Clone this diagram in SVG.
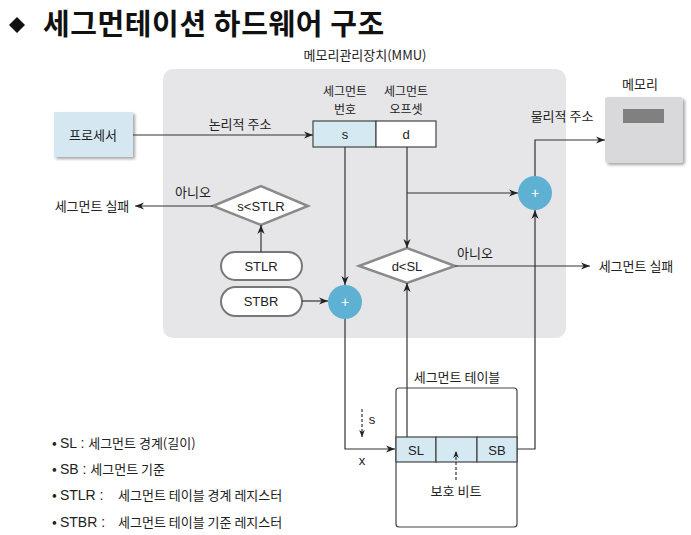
<svg xmlns="http://www.w3.org/2000/svg" width="691" height="535" viewBox="0 0 691 535">
<defs>
<marker id="ah" viewBox="0 0 10 10" refX="10" refY="5" markerWidth="9" markerHeight="9" orient="auto" markerUnits="userSpaceOnUse"><path d="M0,1 L10,5 L0,9 L3,5 Z" fill="#222"/></marker>
<marker id="ahs" viewBox="0 0 10 10" refX="10" refY="5" markerWidth="7" markerHeight="7" orient="auto" markerUnits="userSpaceOnUse"><path d="M0,1 L10,5 L0,9 L3,5 Z" fill="#222"/></marker>
<filter id="sh" x="-20%" y="-20%" width="140%" height="140%"><feDropShadow dx="2" dy="2" stdDeviation="1.5" flood-color="#000" flood-opacity="0.35"/></filter>
</defs>
<style>
text{font-family:"Noto Sans CJK KR","Liberation Sans",sans-serif;fill:#222}
.t{font-size:13px}
.c{text-anchor:middle}
.ln{fill:none;stroke:#333;stroke-width:1.2}
.da{fill:none;stroke:#333;stroke-width:1.2;stroke-dasharray:3,2}
.dia{fill:#fff;stroke:#8a8a8a;stroke-width:2.5}
.pill{fill:#fff;stroke:#777;stroke-width:2}
.cell{fill:#d5e9f2;stroke:#444;stroke-width:1.2}
.plus{fill:#5eb1d2}
.pt{fill:#fff;font-size:14px;font-family:"Liberation Sans",sans-serif}
.lat{font-family:"Liberation Sans","Noto Sans CJK KR",sans-serif}
</style>
<rect width="691" height="535" fill="#fff"/>
<g id="title">
<path d="M17,17 L25,25 L17,33 L9,25 Z" fill="#111"/>
<text x="43" y="35" font-size="29" font-weight="bold" letter-spacing="0.6" style="fill:#111">세그먼테이션 하드웨어 구조</text>
</g>
<g id="mmu">
<rect x="163" y="69" width="403" height="269" rx="10" fill="#e6e6e8"/>
<text x="365" y="60" class="t c" font-size="12">메모리관리장치(MMU)</text>
</g>
<g id="processor">
<rect x="54" y="112" width="79" height="45" fill="#d5e8f1" filter="url(#sh)"/>
<text x="93" y="140" class="t c">프로세서</text>
</g>
<g id="memory">
<text x="640" y="89" class="t c">메모리</text>
<rect x="605" y="97" width="78" height="66" rx="3" fill="#d9d9db" filter="url(#sh)"/>
<rect x="623" y="109" width="41" height="14" fill="#808080"/>
</g>
<g id="address">
<text x="345" y="96" class="c" font-size="12">세그먼트</text>
<text x="345" y="114" class="c" font-size="12">번호</text>
<text x="406" y="96" class="c" font-size="12">세그먼트</text>
<text x="406" y="114" class="c" font-size="12">오프셋</text>
<rect x="313" y="121" width="63" height="26" class="cell" style="fill:#d5e9f2"/>
<rect x="376" y="121" width="60" height="26" class="cell" style="fill:#fff"/>
<text x="345" y="139" class="t c lat" font-size="14">s</text>
<text x="406" y="139" class="t c lat" font-size="14">d</text>
</g>
<g id="stlr-check">
<path d="M213,206 L261,186 L308,206 L261,225 Z" class="dia"/>
<text x="261" y="211" class="t c lat" font-size="14">s&lt;STLR</text>
</g>
<g id="stlr">
<rect x="221" y="252" width="81" height="28" rx="14" class="pill"/>
<text x="261" y="271" class="t c lat" font-size="14">STLR</text>
</g>
<g id="stbr">
<rect x="221" y="287" width="81" height="29" rx="14.5" class="pill"/>
<text x="261" y="306" class="t c lat" font-size="14">STBR</text>
</g>
<g id="plus1">
<circle cx="345" cy="302" r="17" class="plus"/>
<text x="345" y="307" class="pt c">+</text>
</g>
<g id="plus2">
<circle cx="535" cy="193" r="17" class="plus"/>
<text x="535" y="198" class="pt c">+</text>
</g>
<g id="sl-check">
<path d="M359,266 L407,248 L455,266 L407,283 Z" class="dia"/>
<text x="407" y="271" class="t c lat" font-size="14">d&lt;SL</text>
</g>
<g id="segtable">
<text x="457" y="382" class="t c">세그먼트 테이블</text>
<rect x="396" y="388" width="121" height="139" rx="3" fill="#fff" stroke="#444" stroke-width="1.2"/>
<rect x="396" y="437" width="40" height="25" class="cell"/>
<rect x="436" y="437" width="41" height="25" class="cell"/>
<rect x="477" y="437" width="40" height="25" class="cell"/>
<text x="416" y="455" class="t c lat" font-size="14">SL</text>
<text x="497" y="455" class="t c lat" font-size="14">SB</text>
<text x="456" y="496" class="t c" font-size="12">보호 비트</text>
</g>
<g id="connectors">
<path d="M133,135 H313" class="ln" marker-end="url(#ah)"/>
<text x="240" y="129" class="t c">논리적 주소</text>
<path d="M345,147 V285" class="ln" marker-end="url(#ah)"/>
<path d="M407,147 V248" class="ln" marker-end="url(#ah)"/>
<path d="M407,193 H518" class="ln" marker-end="url(#ah)"/>
<path d="M535,176 V140 H605" class="ln" marker-end="url(#ah)"/>
<text x="562" y="121" class="t c">물리적 주소</text>
<path d="M213,206 H135" class="ln" marker-end="url(#ah)"/>
<text x="193" y="197" class="t c">아니오</text>
<text x="92" y="211" class="t c">세그먼트 실패</text>
<path d="M261,252 V225" class="ln" marker-end="url(#ah)"/>
<path d="M302,301 H328" class="ln" marker-end="url(#ah)"/>
<path d="M455,266 H590" class="ln" marker-end="url(#ah)"/>
<text x="475" y="258" class="t c">아니오</text>
<text x="636" y="271" class="t c">세그먼트 실패</text>
<path d="M345,319 V449 H395" class="ln" marker-end="url(#ah)"/>
<text x="362" y="465" class="t c lat">x</text>
<path d="M362,409 V437" class="da" marker-end="url(#ahs)"/>
<text x="372" y="424" class="t c lat">s</text>
<path d="M407,437 V283" class="ln" marker-end="url(#ah)"/>
<path d="M517,449 H535 V210" class="ln" marker-end="url(#ah)"/>
<path d="M456,480 V451" class="da" marker-end="url(#ahs)"/>
</g>
<g id="legend">
<text x="52" y="448" font-size="14">• <tspan class="lat">SL : </tspan><tspan font-size="13">세그먼트 경계(길이)</tspan></text>
<text x="52" y="474" font-size="14">• <tspan class="lat">SB : </tspan><tspan font-size="13">세그먼트 기준</tspan></text>
<text x="52" y="500" font-size="14">• <tspan class="lat">STLR : </tspan><tspan x="118" font-size="13">세그먼트 테이블 경계 레지스터</tspan></text>
<text x="52" y="527" font-size="14">• <tspan class="lat">STBR : </tspan><tspan x="118" font-size="13">세그먼트 테이블 기준 레지스터</tspan></text>
</g>
</svg>
